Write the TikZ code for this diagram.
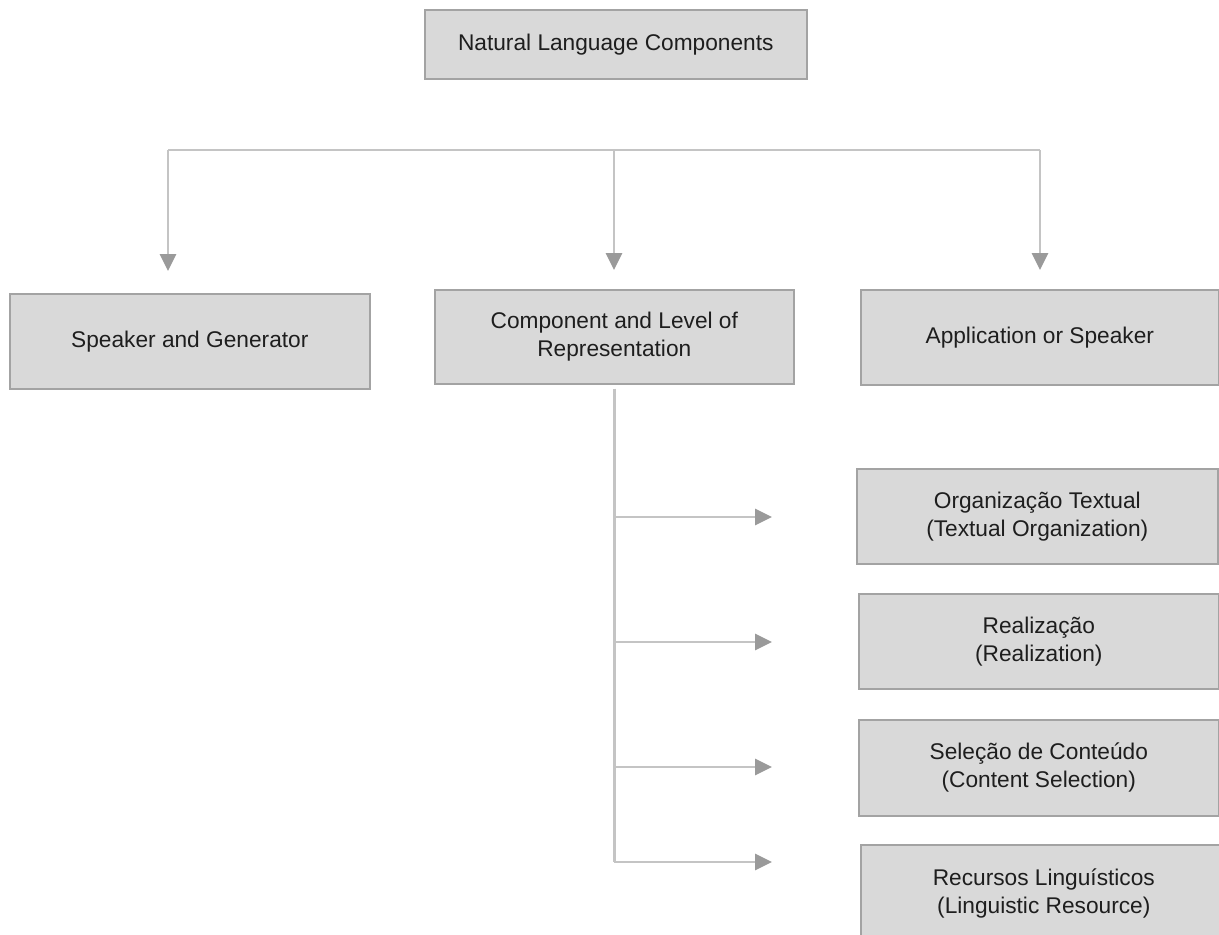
\documentclass[tikz,border=0pt]{standalone}
\usepackage{fontspec}
\setmainfont{Liberation Sans}
\usetikzlibrary{arrows.meta}
\definecolor{boxfill}{HTML}{D9D9D9}
\definecolor{boxline}{HTML}{A3A3A3}
\definecolor{wirecol}{HTML}{C4C4C4}
\definecolor{tipcol}{HTML}{9A9A9A}
\definecolor{inkcol}{HTML}{1E1E1E}
\begin{document}
\begin{tikzpicture}[x=1pt,y=-1pt,
  box/.style={draw=boxline, fill=boxfill, line width=1.6pt, anchor=north west,
    inner sep=0pt, align=center, text=inkcol,
    font=\fontsize{22.7}{28}\selectfont},
  wire/.style={draw=wirecol, line width=2.8pt},
  arr/.style={wire, -{Triangle[length=17pt,width=16pt,fill=tipcol,color=tipcol]}}]

\useasboundingbox (0,0) rectangle (1219,935);

% boxes
\node[box, minimum width=382, minimum height=69] (top) at (424,9) {Natural Language Components};
\node[box, minimum width=360, minimum height=95] (spk) at (9,293) {Speaker and Generator};
\node[box, minimum width=359, minimum height=94] (comp) at (434,289) {Component and Level of\\Representation};
\node[box, minimum width=358, minimum height=95] (app) at (860,289) {Application or Speaker};
\node[box, minimum width=361, minimum height=95] (org) at (856,468) {Organização Textual\\(Textual Organization)};
\node[box, minimum width=360, minimum height=95] (rea) at (858,593) {Realização\\(Realization)};
\node[box, minimum width=360, minimum height=96] (sel) at (858,719) {Seleção de Conteúdo\\(Content Selection)};
\node[box, minimum width=366, minimum height=97] (rec) at (860,844) {Recursos Linguísticos\\(Linguistic Resource)};

% top-level bar and its three drops
\coordinate (barL) at (168,150);
\coordinate (barM) at (614,150);
\coordinate (barR) at (1040,150);
\coordinate (tipL) at (168,271);
\coordinate (tipM) at (614,270);
\coordinate (tipR) at (1040,270);
\draw[wire] (barL) -- (barR);
\draw[arr] (barL) -- (tipL);
\draw[arr] (barM) -- (tipM);
\draw[arr] (barR) -- (tipR);

% spine below the middle box and its four branches
\coordinate (b1) at (772,517);
\coordinate (b2) at (772,642);
\coordinate (b3) at (772,767);
\coordinate (b4) at (772,862);
\draw[wire, shorten <=4pt] (comp.south) -- (comp.south |- b4);
\draw[arr] (comp.south |- b1) -- (b1);
\draw[arr] (comp.south |- b2) -- (b2);
\draw[arr] (comp.south |- b3) -- (b3);
\draw[arr] (comp.south |- b4) -- (b4);

\end{tikzpicture}
\end{document}
